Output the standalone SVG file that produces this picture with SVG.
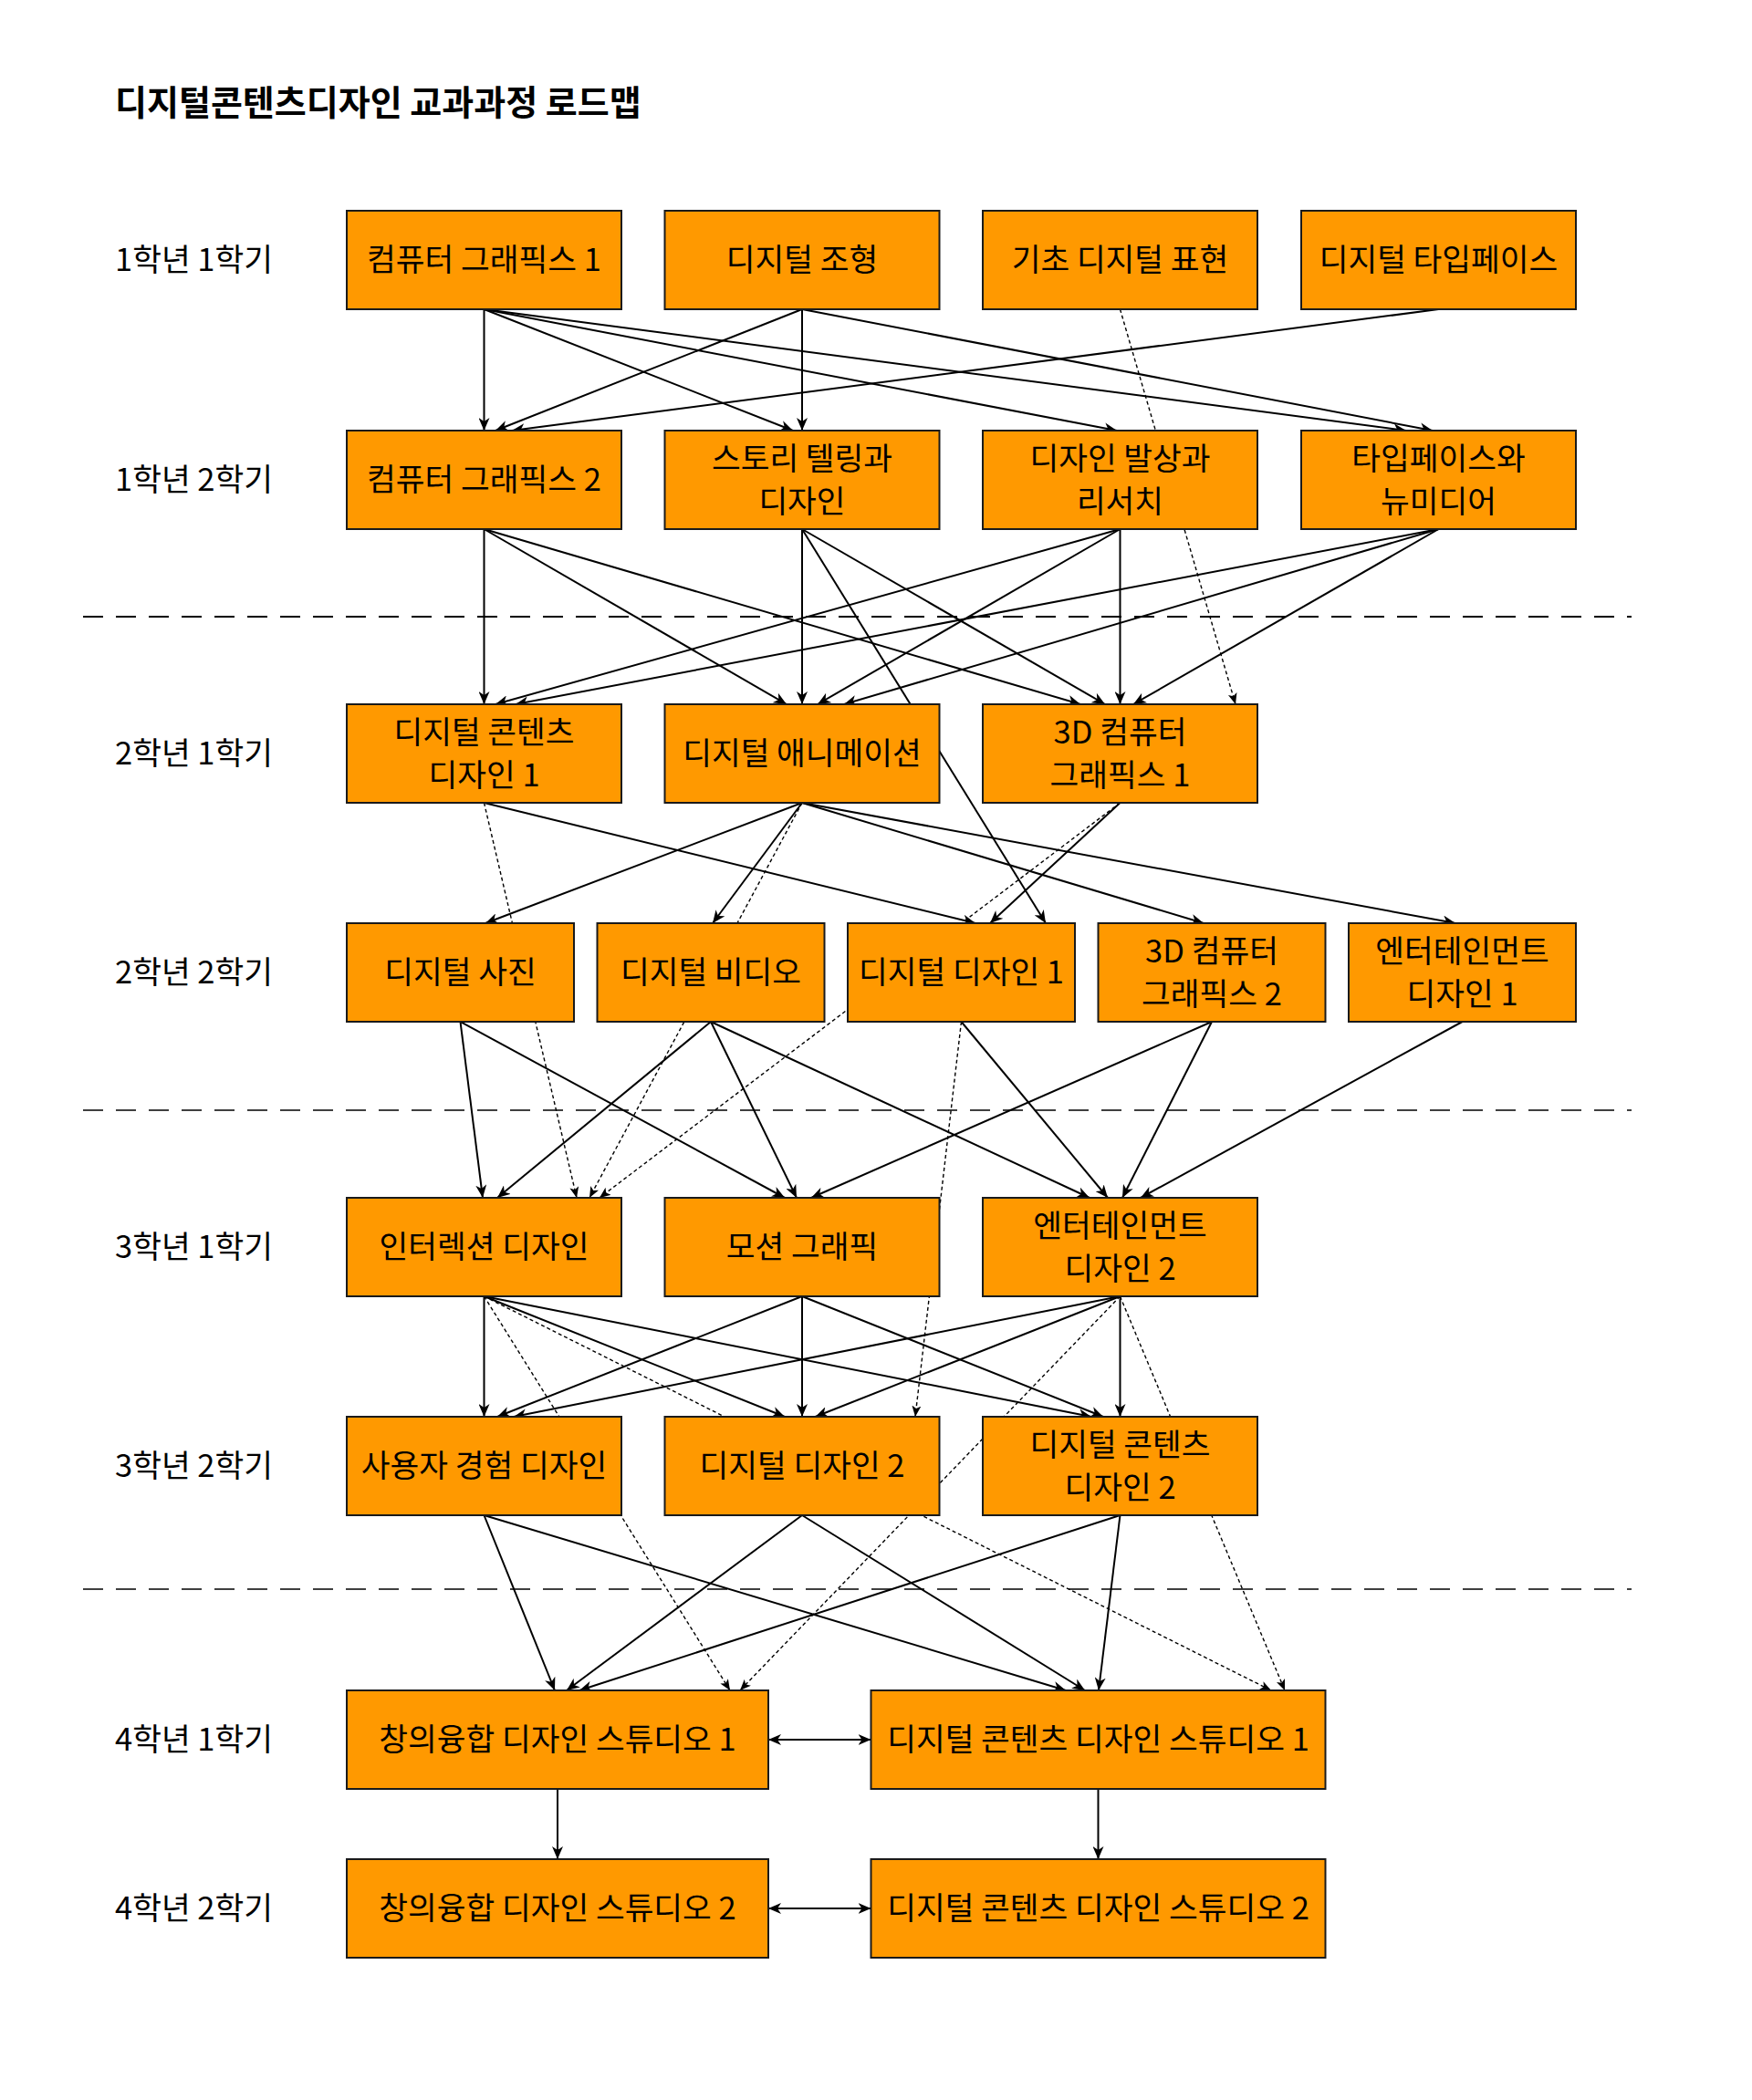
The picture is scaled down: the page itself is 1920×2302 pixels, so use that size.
<svg xmlns="http://www.w3.org/2000/svg" width="1920" height="2302" viewBox="0 0 1920 2302">
  <style>
    .bg { fill: #ffffff; }
    .node rect { fill: #ff9900; stroke: #1a1a1a; stroke-width: 2; }
    .node text, .lbl { font-family: "Noto Sans CJK KR", "Noto Sans KR", sans-serif; font-size: 34.5px; fill: #000; text-anchor: middle; }
    .lbl { text-anchor: start; }
    .title { font-family: "Noto Sans CJK KR", "Noto Sans KR", sans-serif; font-size: 38px; font-weight: bold; fill: #000; }
    .sep { stroke: #000; stroke-dasharray: 22 14; fill: none; }
    .e { stroke: #000; stroke-width: 2; fill: none; marker-end: url(#arr); }
    .d { stroke: #000; stroke-width: 1.4; fill: none; stroke-dasharray: 4 3; marker-end: url(#arrs); }
    .b { stroke: #000; stroke-width: 2; fill: none; marker-end: url(#arr); marker-start: url(#arrb); }
  </style>
  <defs>
    <marker id="arr" markerUnits="userSpaceOnUse" viewBox="0 0 14 12" markerWidth="14" markerHeight="12" refX="14" refY="6" orient="auto">
      <path d="M0,0 L14,6 L0,12 L4,6 z" fill="#000"/>
    </marker>
    <marker id="arrb" markerUnits="userSpaceOnUse" viewBox="0 0 14 12" markerWidth="14" markerHeight="12" refX="0" refY="6" orient="auto">
      <path d="M14,0 L0,6 L14,12 L10,6 z" fill="#000"/>
    </marker>
    <marker id="arrs" markerUnits="userSpaceOnUse" viewBox="0 0 12 10" markerWidth="12" markerHeight="10" refX="12" refY="5" orient="auto">
      <path d="M0,0 L12,5 L0,10 L3,5 z" fill="#000"/>
    </marker>
  </defs>

  <rect class="bg" x="0" y="0" width="1920" height="2302"/>

  <text class="title" x="126" y="126">디지털콘텐츠디자인 교과과정 로드맵</text>

  <!-- semester labels -->
  <g id="labels">
    <text class="lbl" x="126" y="297">1학년 1학기</text>
    <text class="lbl" x="126" y="538">1학년 2학기</text>
    <text class="lbl" x="126" y="838">2학년 1학기</text>
    <text class="lbl" x="126" y="1078">2학년 2학기</text>
    <text class="lbl" x="126" y="1379">3학년 1학기</text>
    <text class="lbl" x="126" y="1619">3학년 2학기</text>
    <text class="lbl" x="126" y="1919">4학년 1학기</text>
    <text class="lbl" x="126" y="2104">4학년 2학기</text>
  </g>

  <!-- year separators -->
  <g id="separators">
    <line class="sep" x1="91" y1="676" x2="1788" y2="676" stroke-width="2"/>
    <line class="sep" x1="91" y1="1217" x2="1788" y2="1217" stroke-width="1.5" stroke="#333"/>
    <line class="sep" x1="91" y1="1742" x2="1788" y2="1742" stroke-width="1.5" stroke="#333"/>
  </g>

  <g id="connectors">
    <!-- 1학년 1학기 -> 1학년 2학기 -->
    <line class="e" x1="530.5" y1="339" x2="530.5" y2="472"/>
    <line class="e" x1="530.5" y1="339" x2="869" y2="472"/>
    <line class="e" x1="530.5" y1="339" x2="1224" y2="472"/>
    <line class="e" x1="530.5" y1="339" x2="1541" y2="472"/>
    <line class="e" x1="879" y1="339" x2="543" y2="472"/>
    <line class="e" x1="879" y1="339" x2="879" y2="472"/>
    <line class="e" x1="879" y1="339" x2="1570" y2="472"/>
    <line class="e" x1="1576.5" y1="339" x2="561" y2="472"/>
    <line class="d" x1="1227.5" y1="339" x2="1354" y2="772"/>

    <!-- 1학년 2학기 -> 2학년 -->
    <line class="e" x1="530.5" y1="580" x2="530.5" y2="772"/>
    <line class="e" x1="530.5" y1="580" x2="862" y2="772"/>
    <line class="e" x1="530.5" y1="580" x2="1184" y2="772"/>
    <line class="e" x1="879" y1="580" x2="879" y2="772"/>
    <line class="e" x1="879" y1="580" x2="1211" y2="772"/>
    <line class="e" x1="879" y1="580" x2="1146" y2="1012"/>
    <line class="e" x1="1227.5" y1="580" x2="543" y2="772"/>
    <line class="e" x1="1227.5" y1="580" x2="896" y2="772"/>
    <line class="e" x1="1227.5" y1="580" x2="1227.5" y2="772"/>
    <line class="e" x1="1576.5" y1="580" x2="565" y2="772"/>
    <line class="e" x1="1576.5" y1="580" x2="925" y2="772"/>
    <line class="e" x1="1576.5" y1="580" x2="1242" y2="772"/>

    <!-- 2학년 1학기 -> 2학년 2학기 -->
    <line class="e" x1="530.5" y1="880" x2="1069" y2="1012"/>
    <line class="d" x1="530.5" y1="880" x2="632" y2="1313"/>
    <line class="e" x1="879" y1="880" x2="532" y2="1012"/>
    <line class="e" x1="879" y1="880" x2="781" y2="1012"/>
    <line class="e" x1="879" y1="880" x2="1319" y2="1012"/>
    <line class="e" x1="879" y1="880" x2="1595" y2="1012"/>
    <line class="d" x1="879" y1="880" x2="646" y2="1313"/>
    <line class="e" x1="1227.5" y1="880" x2="1085" y2="1012"/>
    <line class="d" x1="1227.5" y1="880" x2="657" y2="1313"/>

    <!-- 2학년 2학기 -> 3학년 1학기 -->
    <line class="e" x1="504.5" y1="1120" x2="529" y2="1313"/>
    <line class="e" x1="504.5" y1="1120" x2="860" y2="1313"/>
    <line class="e" x1="779" y1="1120" x2="545" y2="1313"/>
    <line class="e" x1="779" y1="1120" x2="873" y2="1313"/>
    <line class="e" x1="779" y1="1120" x2="1194" y2="1313"/>
    <line class="e" x1="1053.5" y1="1120" x2="1214" y2="1313"/>
    <line class="d" x1="1053.5" y1="1120" x2="1003" y2="1553"/>
    <line class="e" x1="1328" y1="1120" x2="889" y2="1313"/>
    <line class="e" x1="1328" y1="1120" x2="1230" y2="1313"/>
    <line class="e" x1="1602.5" y1="1120" x2="1250" y2="1313"/>

    <!-- 3학년 1학기 -> 3학년 2학기 -->
    <line class="e" x1="530.5" y1="1421" x2="530.5" y2="1553"/>
    <line class="e" x1="530.5" y1="1421" x2="860" y2="1553"/>
    <line class="e" x1="530.5" y1="1421" x2="1196" y2="1553"/>
    <line class="d" x1="530.5" y1="1421" x2="800" y2="1853"/>
    <line class="d" x1="530.5" y1="1421" x2="1393" y2="1853"/>
    <line class="e" x1="879" y1="1421" x2="545" y2="1553"/>
    <line class="e" x1="879" y1="1421" x2="879" y2="1553"/>
    <line class="e" x1="879" y1="1421" x2="1209" y2="1553"/>
    <line class="e" x1="1227.5" y1="1421" x2="563" y2="1553"/>
    <line class="e" x1="1227.5" y1="1421" x2="893.5" y2="1553"/>
    <line class="e" x1="1227.5" y1="1421" x2="1227.5" y2="1553"/>
    <line class="d" x1="1227.5" y1="1421" x2="811" y2="1853"/>
    <line class="d" x1="1227.5" y1="1421" x2="1408" y2="1853"/>

    <!-- 3학년 2학기 -> 4학년 1학기 -->
    <line class="e" x1="530.5" y1="1661" x2="608" y2="1853"/>
    <line class="e" x1="530.5" y1="1661" x2="1168" y2="1853"/>
    <line class="e" x1="879" y1="1661" x2="621" y2="1853"/>
    <line class="e" x1="879" y1="1661" x2="1189" y2="1853"/>
    <line class="e" x1="1227.5" y1="1661" x2="635" y2="1853"/>
    <line class="e" x1="1227.5" y1="1661" x2="1204" y2="1853"/>

    <!-- 4학년 -->
    <line class="e" x1="611" y1="1961" x2="611" y2="2038"/>
    <line class="e" x1="1203.5" y1="1961" x2="1203.5" y2="2038"/>
    <line class="b" x1="842" y1="1907" x2="954.5" y2="1907"/>
    <line class="b" x1="842" y1="2092" x2="954.5" y2="2092"/>
  </g>

  <!-- 1학년 1학기 -->
  <g id="n-cg1" class="node"><rect x="380" y="231" width="301" height="108"/><text x="530.5" y="297">컴퓨터 그래픽스 1</text></g>
  <g id="n-digital-form" class="node"><rect x="728.5" y="231" width="301" height="108"/><text x="879" y="297">디지털 조형</text></g>
  <g id="n-basic-digital" class="node"><rect x="1077" y="231" width="301" height="108"/><text x="1227.5" y="297">기초 디지털 표현</text></g>
  <g id="n-typeface" class="node"><rect x="1426" y="231" width="301" height="108"/><text x="1576.5" y="297">디지털 타입페이스</text></g>

  <!-- 1학년 2학기 -->
  <g id="n-cg2" class="node"><rect x="380" y="472" width="301" height="108"/><text x="530.5" y="538">컴퓨터 그래픽스 2</text></g>
  <g id="n-storytelling" class="node"><rect x="728.5" y="472" width="301" height="108"/><text x="879" y="514.5">스토리 텔링과</text><text x="879" y="561.5">디자인</text></g>
  <g id="n-ideation" class="node"><rect x="1077" y="472" width="301" height="108"/><text x="1227.5" y="514.5">디자인 발상과</text><text x="1227.5" y="561.5">리서치</text></g>
  <g id="n-typo-media" class="node"><rect x="1426" y="472" width="301" height="108"/><text x="1576.5" y="514.5">타입페이스와</text><text x="1576.5" y="561.5">뉴미디어</text></g>

  <!-- 2학년 1학기 -->
  <g id="n-dcd1" class="node"><rect x="380" y="772" width="301" height="108"/><text x="530.5" y="814.5">디지털 콘텐츠</text><text x="530.5" y="861.5">디자인 1</text></g>
  <g id="n-animation" class="node"><rect x="728.5" y="772" width="301" height="108"/><text x="879" y="838">디지털 애니메이션</text></g>
  <g id="n-3dcg1" class="node"><rect x="1077" y="772" width="301" height="108"/><text x="1227.5" y="814.5">3D 컴퓨터</text><text x="1227.5" y="861.5">그래픽스 1</text></g>

  <!-- 2학년 2학기 -->
  <g id="n-photo" class="node"><rect x="380" y="1012" width="249" height="108"/><text x="504.5" y="1078">디지털 사진</text></g>
  <g id="n-video" class="node"><rect x="654.5" y="1012" width="249" height="108"/><text x="779" y="1078">디지털 비디오</text></g>
  <g id="n-dd1" class="node"><rect x="929" y="1012" width="249" height="108"/><text x="1053.5" y="1078">디지털 디자인 1</text></g>
  <g id="n-3dcg2" class="node"><rect x="1203.5" y="1012" width="249" height="108"/><text x="1328" y="1054.5">3D 컴퓨터</text><text x="1328" y="1101.5">그래픽스 2</text></g>
  <g id="n-ent1" class="node"><rect x="1478" y="1012" width="249" height="108"/><text x="1602.5" y="1054.5">엔터테인먼트</text><text x="1602.5" y="1101.5">디자인 1</text></g>

  <!-- 3학년 1학기 -->
  <g id="n-interaction" class="node"><rect x="380" y="1313" width="301" height="108"/><text x="530.5" y="1379">인터렉션 디자인</text></g>
  <g id="n-motion" class="node"><rect x="728.5" y="1313" width="301" height="108"/><text x="879" y="1379">모션 그래픽</text></g>
  <g id="n-ent2" class="node"><rect x="1077" y="1313" width="301" height="108"/><text x="1227.5" y="1355.5">엔터테인먼트</text><text x="1227.5" y="1402.5">디자인 2</text></g>

  <!-- 3학년 2학기 -->
  <g id="n-ux" class="node"><rect x="380" y="1553" width="301" height="108"/><text x="530.5" y="1619">사용자 경험 디자인</text></g>
  <g id="n-dd2" class="node"><rect x="728.5" y="1553" width="301" height="108"/><text x="879" y="1619">디지털 디자인 2</text></g>
  <g id="n-dcd2" class="node"><rect x="1077" y="1553" width="301" height="108"/><text x="1227.5" y="1595.5">디지털 콘텐츠</text><text x="1227.5" y="1642.5">디자인 2</text></g>

  <!-- 4학년 -->
  <g id="n-studio-c1" class="node"><rect x="380" y="1853" width="462" height="108"/><text x="611" y="1919">창의융합 디자인 스튜디오 1</text></g>
  <g id="n-studio-d1" class="node"><rect x="954.5" y="1853" width="498" height="108"/><text x="1203.5" y="1919">디지털 콘텐츠 디자인 스튜디오 1</text></g>
  <g id="n-studio-c2" class="node"><rect x="380" y="2038" width="462" height="108"/><text x="611" y="2104">창의융합 디자인 스튜디오 2</text></g>
  <g id="n-studio-d2" class="node"><rect x="954.5" y="2038" width="498" height="108"/><text x="1203.5" y="2104">디지털 콘텐츠 디자인 스튜디오 2</text></g>
</svg>
